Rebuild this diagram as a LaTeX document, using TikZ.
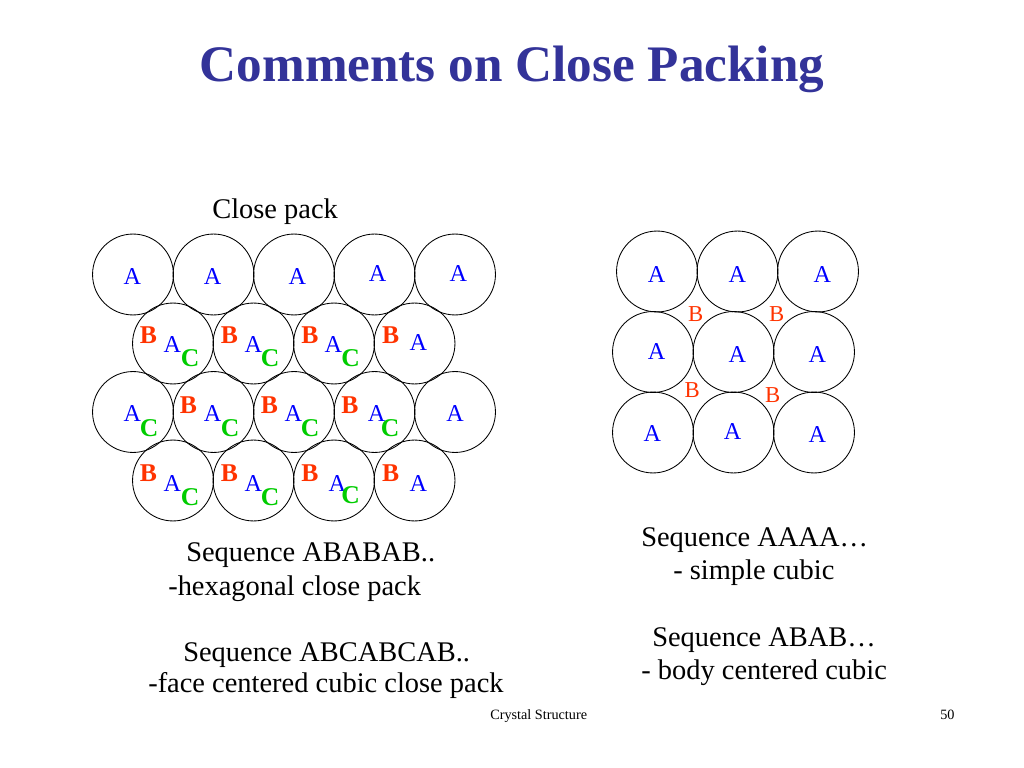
\documentclass[tikz,border=0pt]{standalone}
\usepackage{fontspec}
\setmainfont{Liberation Serif}
\definecolor{T1}{RGB}{51,51,153}
\definecolor{LA}{RGB}{0,0,255}
\definecolor{LB}{RGB}{255,51,0}
\definecolor{LC}{RGB}{0,204,0}
\tikzset{
  ball/.style={circle, draw, line width=0.6pt, inner sep=0pt, minimum size=56.9pt},
  labA/.style={LA, inner sep=0pt, font=\fontsize{17}{17}\selectfont},
  labB/.style={LB, inner sep=0pt, font=\bfseries\fontsize{18}{18}\selectfont},
  labC/.style={LC, inner sep=0pt, font=\bfseries\fontsize{18}{18}\selectfont},
  labS/.style={LB, inner sep=0pt, font=\fontsize{16}{16}\selectfont},
  txt/.style={inner sep=0pt, anchor=base west, font=\fontsize{20}{24}\selectfont}
}
\begin{document}
\begin{tikzpicture}[x=0.703125pt, y=-0.703125pt]
  \useasboundingbox (0,0) rectangle (1024,768);
  \node[anchor=base, inner sep=0pt, T1, font=\bfseries\fontsize{36}{40}\selectfont] (title) at (512,82) {Comments on Close Packing};
  % close pack
  \node[txt] (close) at (212,219) {Close pack};
  \foreach \i in {0,...,4} \node[ball] (h1\i) at (133+80.5*\i,274.5) {};
  \foreach \i in {0,...,3} \node[ball] (h2\i) at (173+80.5*\i,343.5) {};
  \foreach \i in {0,...,4} \node[ball] (h3\i) at (133+80.5*\i,412) {};
  \foreach \i in {0,...,3} \node[ball] (h4\i) at (173+80.5*\i,480.5) {};
  \foreach \x/\y [count=\k] in {132.3/276.7, 212.7/276.7, 297.3/276.7, 377.7/273.3, 458.3/273.3,
      172.3/345, 253.3/345, 333.3/345, 418.3/342.7,
      132.3/413.3, 212.7/413.3, 293.3/413.3, 376.7/413.3, 455/413.3,
      172.3/483.3, 253.3/484, 337.3/484, 418.3/483.3}
    \node[labA] (ha\k) at (\x,\y) {A};
  \foreach \x/\y [count=\k] in {148.3/335, 229.3/335, 310/335, 390.7/335,
      188.3/405, 269.3/405, 350/405,
      148.3/473.3, 229.3/473.3, 310/473.3, 390.7/473.3}
    \node[labB] (hb\k) at (\x,\y) {B};
  \foreach \x/\y [count=\k] in {190/358.3, 270/358.3, 350.7/358.3,
      149/428.3, 230/428.3, 310/428.3, 390/428.3,
      190/496.7, 270/496.7, 350.7/495}
    \node[labC] (hc\k) at (\x,\y) {C};
  % simple cubic
  \foreach \i in {0,...,2} \node[ball] (s1\i) at (657+80.5*\i,271.5) {};
  \foreach \i in {0,...,2} \node[ball] (s2\i) at (653+80.5*\i,352) {};
  \foreach \i in {0,...,2} \node[ball] (s3\i) at (653+80.5*\i,432.5) {};
  \foreach \x/\y [count=\k] in {656.7/275, 737.3/275, 822.3/275,
      656.7/351.7, 737.3/355, 817.3/355,
      652.3/433.3, 732.7/431.7, 817.3/435}
    \node[labA] (sa\k) at (\x,\y) {A};
  \foreach \x/\y [count=\k] in {695.7/314.3, 776.7/314.3, 692.3/390, 772.7/395}
    \node[labS] (sb\k) at (\x,\y) {B};
  % texts
  \node[txt] (hcp1) at (186,561) {Sequence ABABAB..};
  \node[txt] (hcp2) at (168,595) {-hexagonal close pack};
  \node[txt] (fcc1) at (183,661) {Sequence ABCABCAB..};
  \node[txt] (fcc2) at (148,692) {-face centered cubic close pack};
  \node[txt] (sc1) at (641,546) {Sequence AAAA…};
  \node[txt] (sc2) at (673,579) {- simple cubic};
  \node[txt] (bcc1) at (652,646) {Sequence ABAB…};
  \node[txt] (bcc2) at (641,679) {- body centered cubic};
  \node[txt, font=\fontsize{10}{12}\selectfont] (foot) at (490,719) {Crystal Structure};
  \node[txt, font=\fontsize{10}{12}\selectfont] (page) at (940,719) {50};
\end{tikzpicture}
\end{document}
